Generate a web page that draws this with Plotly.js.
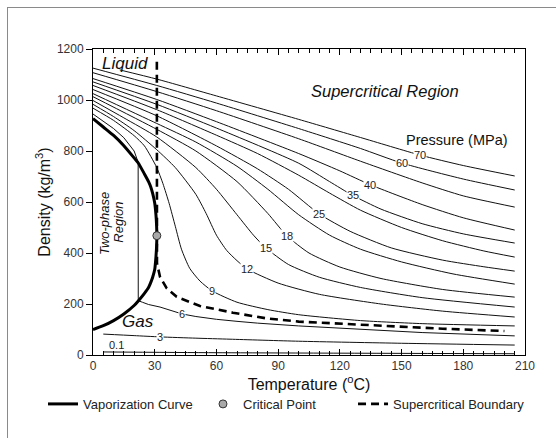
<!DOCTYPE html>
<html>
<head>
<meta charset="utf-8">
<script src="https://cdn.plot.ly/plotly-3.0.1.min.js"></script>
<style>
  html, body { margin: 0; padding: 0; background: #fff; }
  #wrap { position: relative; width: 556px; height: 438px; overflow: hidden; }
  #chart { position: absolute; left: 0; top: 0; width: 556px; height: 438px; }
  #frame { position: absolute; left: 7px; top: 7px; width: 700px; height: 600px;
           border-left: 1px solid #8a8a8a; border-top: 1px solid #8a8a8a; pointer-events: none; }
</style>
</head>
<body>
<div id="wrap"><div id="chart"></div><div id="frame"></div></div>
<script>
// ---- Isobars: temperature (°C) and density (kg/m3) ----
const p70_T   = [13, 31, 60, 100, 130, 159, 180, 205];
const p70_rho = [1118, 1082, 1016, 924, 853, 784, 743, 702];

const p60_T   = [0, 31, 60, 100, 130, 150, 180, 205];
const p60_rho = [1125, 1057, 988, 888, 810, 753, 690, 647];

const p50_T   = [0, 31, 60, 100, 130, 160, 180, 205];
const p50_rho = [1107, 1033, 958, 848, 760, 675, 624, 580];

const p40_T   = [0, 31, 60, 100, 120, 135, 160, 180, 205];
const p40_rho = [1084, 1002, 915, 790, 722, 667, 590, 538, 490];

const p35_T   = [0, 31, 60, 100, 115, 126, 140, 160, 180, 205];
const p35_rho = [1071, 983, 890, 752, 680, 627, 572, 515, 475, 439];

const p30_T   = [0, 31, 60, 80, 100, 115, 130, 150, 170, 190, 205];
const p30_rho = [1057, 962, 862, 790, 705, 635, 568, 500, 448, 408, 384];

const p25_T   = [0, 31, 60, 80, 95, 110, 125, 145, 170, 190, 205];
const p25_rho = [1041, 938, 820, 730, 650, 553, 485, 420, 372, 346, 329];

const p20_T   = [0, 31, 50, 70, 85, 100, 115, 130, 150, 175, 205];
const p20_rho = [1025, 908, 835, 740, 650, 550, 470, 415, 365, 318, 278];

const p18_T   = [0, 31, 50, 70, 85, 94.3, 105, 120, 140, 170, 205];
const p18_rho = [1013, 885, 800, 680, 555, 467, 400, 345, 300, 257, 227];

const p15_T   = [0, 15, 31, 50, 60, 70, 78, 84, 95, 110, 130, 160, 205];
const p15_rho = [998, 930, 855, 735, 650, 550, 470, 420, 355, 305, 265, 225, 188];

const p12_T   = [0, 10, 20, 31, 40, 50, 55, 60, 65, 70, 75, 90, 110, 140, 170, 205];
const p12_rho = [983, 935, 880, 805, 735, 630, 555, 470, 410, 370, 337, 282, 238, 200, 172, 149];

const p9_T    = [0, 10, 20, 25, 31, 34, 37, 40, 43, 47, 52, 58, 70, 85, 100, 130, 160, 205];
const p9_rho  = [968, 920, 860, 820, 735, 672, 595, 505, 415, 340, 290, 251, 207, 178, 158, 135, 123, 114];

const p6_T    = [0, 5, 10, 15, 18, 20, 21.95, 22.0, 24, 27, 32.6, 38, 43.3, 50, 60, 70, 80, 100, 130, 160, 205];
const p6_rho  = [945, 918, 888, 852, 823, 800, 756, 213, 207, 198, 188, 175, 161, 151, 140, 132, 125, 114, 100, 88, 75];

const p3_T    = [5, 20, 32.6, 50, 66.6, 100, 150, 205];
const p3_rho  = [82, 76, 71, 66, 62, 54, 46, 39];

const p01_T   = [5, 60, 205];
const p01_rho = [12, 9, 5];

// ---- Vaporization (saturation) curve ----
const sat_T   = [0, 5, 10, 15, 20, 22, 25, 27, 28, 29, 30, 30.6, 30.9, 31.04,
                 30.9, 30.6, 30, 29, 28, 27, 25, 22, 20, 15, 10, 5, 0];
const sat_rho = [927, 894, 861, 821, 773, 753, 710, 680, 661, 634, 596, 550, 510, 468,
                 425, 385, 335, 305, 283, 265, 242, 212, 194, 161, 135, 115, 100];

// ---- Critical point ----
const crit_T = [31.04];
const crit_rho = [468];

// ---- Supercritical boundary ----
const sc_T   = [31.04, 31.04, 31.1, 32.6, 35.8, 40.7, 52, 68, 84, 100, 141, 170, 200];
const sc_rho = [1150, 468, 360, 306, 262, 228, 192, 166, 144, 131, 114, 103, 94];

// ---- Isobar labels ----
const lab_text = ['70', '60', '40', '35', '25', '18', '15', '12', '9', '6', '3'];
const lab_T    = [159, 150, 134.7, 126.4, 110, 94.3, 84, 75, 58, 43.3, 32.6];
const lab_rho  = [784, 753, 667, 627, 553, 467, 420, 337, 251, 161, 71];

const FONT = 'Liberation Sans, Arial, Helvetica, sans-serif';

const isobars = [
  [p70_T, p70_rho], [p60_T, p60_rho], [p50_T, p50_rho], [p40_T, p40_rho],
  [p35_T, p35_rho], [p30_T, p30_rho], [p25_T, p25_rho], [p20_T, p20_rho],
  [p18_T, p18_rho], [p15_T, p15_rho], [p12_T, p12_rho], [p9_T, p9_rho],
  [p3_T, p3_rho], [p01_T, p01_rho]
];

const traces = isobars.map(([x, y]) => ({
  x: x, y: y, type: 'scatter', mode: 'lines',
  line: { color: '#111', width: 1, shape: 'spline', smoothing: 0.6 },
  showlegend: false, hoverinfo: 'skip'
}));
traces.push({
  x: p6_T, y: p6_rho, type: 'scatter', mode: 'lines',
  line: { color: '#111', width: 1 }, showlegend: false, hoverinfo: 'skip'
});
traces.push({
  x: sat_T, y: sat_rho, type: 'scatter', mode: 'lines', name: 'Vaporization Curve',
  line: { color: '#000', width: 3, shape: 'spline', smoothing: 0.5 },
  legend: 'legend', hoverinfo: 'skip'
});
traces.push({
  x: sc_T, y: sc_rho, type: 'scatter', mode: 'lines', name: 'Supercritical Boundary',
  line: { color: '#000', width: 2.6, dash: '8px,5px' },
  legend: 'legend3', hoverinfo: 'skip'
});
traces.push({
  x: crit_T, y: crit_rho, type: 'scatter', mode: 'markers', name: 'Critical Point',
  marker: { size: 8, color: '#a8a8a8', line: { color: '#333', width: 1 } },
  legend: 'legend2', hoverinfo: 'skip'
});

const annotations = lab_text.map((t, i) => ({
  x: lab_T[i], y: lab_rho[i], xref: 'x', yref: 'y', text: t, showarrow: false,
  font: { family: FONT, size: 11, color: '#222' }, bgcolor: '#fff', borderpad: 0
}));
annotations.push(
  { x: 11.4, y: 41, text: '0.1', showarrow: false, font: { family: FONT, size: 11, color: '#222' } },
  { x: 15.6, y: 1145, text: '<i>Liquid</i>', showarrow: false, font: { family: FONT, size: 17, color: '#111' } },
  { x: 142, y: 1035, text: '<i>Supercritical Region</i>', showarrow: false, font: { family: FONT, size: 16.5, color: '#111' } },
  { x: 176.9, y: 843, text: 'Pressure (MPa)', showarrow: false, font: { family: FONT, size: 14.5, color: '#111' } },
  { x: 21.9, y: 133, text: '<i>Gas</i>', showarrow: false, font: { family: FONT, size: 17, color: '#111' } },
  { x: 5.9, y: 514, text: '<i>Two-phase</i>', textangle: -90, showarrow: false,
    font: { family: FONT, size: 13, color: '#111' } },
  { x: 12.3, y: 520, text: '<i>Region</i>', textangle: -90, showarrow: false,
    font: { family: FONT, size: 13, color: '#111' } }
);

const legendBase = {
  orientation: 'h', y: -0.16, yanchor: 'middle', xanchor: 'left',
  font: { family: FONT, size: 13, color: '#222' }, bgcolor: 'rgba(0,0,0,0)', borderwidth: 0
};

const layout = {
  width: 556, height: 438,
  margin: { l: 93, r: 31, t: 49, b: 83 },
  paper_bgcolor: '#fff', plot_bgcolor: '#fff',
  font: { family: FONT, color: '#222' },
  showlegend: true,
  legend:  Object.assign({}, legendBase, { x: -0.1157 }),
  legend2: Object.assign({}, legendBase, { x: 0.2546 }),
  legend3: Object.assign({}, legendBase, { x: 0.6019 }),
  xaxis: {
    range: [0, 210], tick0: 0, dtick: 30, ticks: 'inside', ticklen: 6, tickcolor: '#000', tickwidth: 1,
    minor: { dtick: 5, ticks: 'inside', ticklen: 4, tickcolor: '#000', tickwidth: 1 },
    showline: true, linecolor: '#000', linewidth: 1, mirror: 'ticks',
    showgrid: false, zeroline: false,
    tickfont: { family: FONT, size: 12, color: '#333' },
    title: { text: 'Temperature (<sup>o</sup>C)', font: { family: FONT, size: 16, color: '#111' }, standoff: 4 }
  },
  yaxis: {
    range: [0, 1200], tick0: 0, dtick: 200, ticks: 'outside', ticklen: 6, tickcolor: '#000', tickwidth: 1,
    showline: true, linecolor: '#000', linewidth: 1, mirror: true,
    showgrid: false, zeroline: false,
    tickfont: { family: FONT, size: 12, color: '#333' },
    title: { text: 'Density (kg/m<sup>3</sup>)', font: { family: FONT, size: 16, color: '#111' }, standoff: 2 }
  },
  annotations: annotations
};

Plotly.newPlot('chart', traces, layout, { displayModeBar: false, staticPlot: true });
</script>
</body>
</html>
